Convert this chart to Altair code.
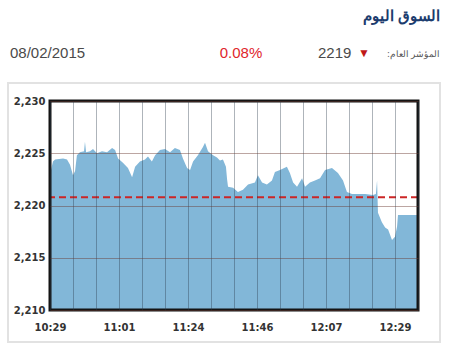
import altair as alt
import pandas as pd

# ---- data -------------------------------------------------------------
# x position in time-grid steps (0..16), index value
x_pos = [0.00, 0.13, 0.22, 0.57, 0.74, 0.87, 1.00, 1.09, 1.17, 1.30, 1.48, 1.52,
         1.57, 1.74, 1.87, 2.04, 2.26, 2.48, 2.70, 2.83, 2.96, 3.17, 3.39, 3.57,
         3.70, 3.91, 4.13, 4.26, 4.43, 4.57, 4.78, 5.00, 5.22, 5.43, 5.65, 5.78,
         5.96, 6.09, 6.22, 6.43, 6.65, 6.74, 6.87, 7.09, 7.26, 7.39, 7.52, 7.65,
         7.70, 7.74, 7.96, 8.17, 8.39, 8.61, 8.91, 9.04, 9.22, 9.43, 9.65, 9.78,
         10.00, 10.30, 10.43, 10.57, 10.74, 10.96, 11.09, 11.30, 11.52, 11.74,
         11.96, 12.26, 12.52, 12.74, 12.91, 13.13, 13.70, 14.04, 14.17, 14.22,
         14.26, 14.43, 14.57, 14.70, 14.87, 15.00, 15.09, 15.13, 16.00]
index_vals = [2223.0, 2224.2, 2224.4, 2224.5, 2224.4, 2223.9, 2222.9, 2223.3,
              2224.8, 2225.1, 2225.2, 2226.1, 2225.1, 2225.2, 2225.4, 2225.0,
              2225.2, 2225.1, 2225.5, 2225.3, 2224.5, 2224.1, 2223.6, 2222.7,
              2223.7, 2224.2, 2224.4, 2224.7, 2224.2, 2224.8, 2225.3, 2225.4,
              2225.1, 2225.5, 2225.3, 2224.5, 2223.6, 2223.4, 2224.2, 2224.8,
              2225.6, 2226.0, 2225.2, 2224.8, 2224.6, 2224.3, 2224.4, 2223.7,
              2222.5, 2221.8, 2221.7, 2221.3, 2221.5, 2222.0, 2222.2, 2222.9,
              2222.2, 2222.0, 2222.4, 2223.2, 2223.4, 2223.7, 2223.1, 2222.2,
              2221.8, 2222.6, 2221.8, 2222.2, 2222.4, 2222.6, 2223.4, 2223.6,
              2223.1, 2222.4, 2221.3, 2221.1, 2221.1, 2221.0, 2221.1, 2222.4,
              2219.3, 2218.4, 2217.9, 2217.7, 2216.7, 2217.0, 2218.0, 2219.1,
              2219.1]

time_labels = ["10:29", "11:01", "11:24", "11:46", "12:07", "12:29"]
label_slots = [0, 3, 6, 9, 12, 15]
grid_slots = list(range(17))
y_ticks = [2210, 2215, 2220, 2225, 2230]
prev_close = [2220.8]

title_text = "السوق اليوم"
date_text = "08/02/2015"
change_text = "0.08%"
index_text = "2219"
arrow_text = "▼"
caption_text = "المؤشر العام:\u200f"

# ---- chart ------------------------------------------------------------
df = pd.DataFrame({"x": x_pos, "v": index_vals})

label_expr = "".join(
    f"datum.value == {s} ? '{t}' : " for s, t in zip(label_slots, time_labels)
) + "''"

xscale = alt.Scale(domain=[0, 16], nice=False, zero=False)
yscale = alt.Scale(domain=[2210, 2230], nice=False, zero=False)

area = alt.Chart(df).mark_area(color="#82b7d8", opacity=1, line=False).encode(
    x=alt.X("x:Q", scale=xscale, axis=alt.Axis(
        values=grid_slots, labelExpr=label_expr, title=None, domain=False,
        ticks=False, grid=True, gridColor="#2a3a4a", gridOpacity=0.38,
        gridWidth=1, labelFont="DejaVu Sans", labelFontWeight="bold",
        labelFontSize=10, labelColor="#333333", labelPadding=12,
        labelOverlap=False, labelFlush=False, zindex=1)),
    y=alt.Y("v:Q", scale=yscale, axis=alt.Axis(
        values=y_ticks, format=",d", title=None, domain=False, ticks=False,
        grid=True, gridColor="#6a3a30", gridOpacity=0.45, gridWidth=1,
        labelFont="DejaVu Sans", labelFontWeight="bold", labelFontSize=10,
        labelColor="#333333", labelPadding=5, labelFlush=False, zindex=1)),
    y2=alt.datum(2210),
)

ref = alt.Chart(pd.DataFrame({"v": prev_close})).mark_rule(
    color="#cc2626", strokeWidth=2, strokeDash=[7, 4]
).encode(y=alt.Y("v:Q", scale=yscale))

frame = alt.Chart(pd.DataFrame({"a": [0]})).mark_rect(
    fillOpacity=0, stroke="#141414", strokeWidth=3
).encode(x=alt.value(0), x2=alt.value(368), y=alt.value(0), y2=alt.value(209))

outer = alt.Chart(pd.DataFrame({"a": [0]})).mark_rect(
    fillOpacity=0, stroke="#e2e2e2", strokeWidth=2
).encode(x=alt.value(-42), x2=alt.value(390), y=alt.value(-18), y2=alt.value(241))


def label(text, x, y, size, color, align="left", weight="normal",
          font="Liberation Sans"):
    return alt.Chart(pd.DataFrame({"t": [text]})).mark_text(
        align=align, baseline="middle", fontSize=size, color=color,
        fontWeight=weight, font=font
    ).encode(x=alt.value(x), y=alt.value(y), text="t:N")


texts = [
    label(title_text, 390, -85, 15, "#1c3c6e", align="right", weight="bold",
          font="Noto Sans"),
    label(date_text, -40, -48, 15, "#4a4a4a"),
    label(change_text, 191, -48, 15, "#e0262c", align="center"),
    label(index_text, 268, -48, 15, "#4a4a4a"),
    label(arrow_text, 314, -48, 12, "#c01818", align="center"),
    label(caption_text, 390, -47, 9, "#555555", align="right", font="Noto Sans"),
]

chart = alt.layer(outer, area, ref, frame, *texts).properties(
    width=368, height=209,
    padding={"left": 50, "top": 101, "right": 32, "bottom": 40},
    autosize="none",
    background="white",
).configure_view(stroke=None)

chart.save("out.html", embed_options={"renderer": "svg", "actions": False})
